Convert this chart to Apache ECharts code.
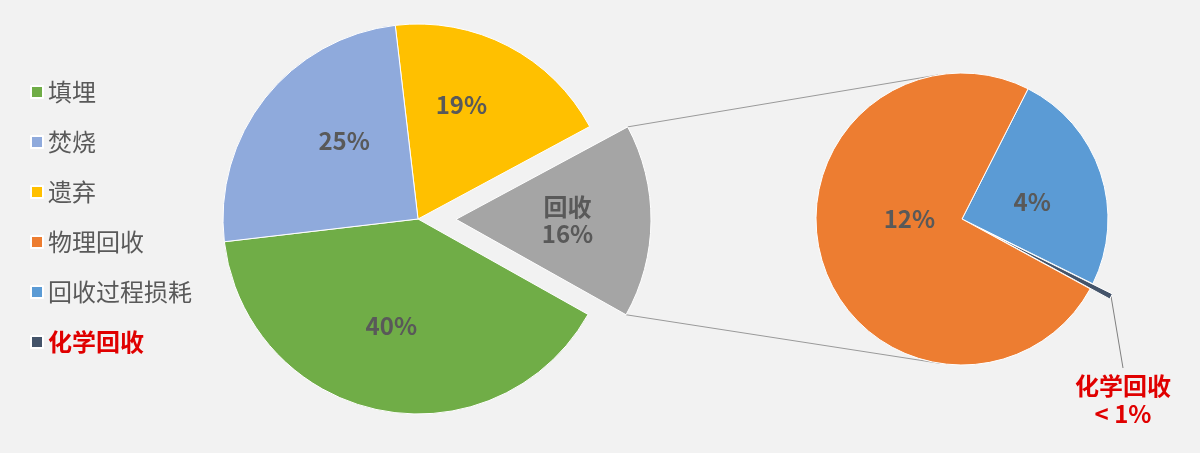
<!DOCTYPE html>
<html><head><meta charset="utf-8">
<script src="https://cdn.jsdelivr.net/npm/echarts@6/dist/echarts.min.js"></script>
<style>html,body{margin:0;padding:0;background:#f2f2f2}#c{width:1200px;height:453px}</style>
</head><body><div id="c"></div>
<script>
// ---- data ----
const legendNames = ['填埋', '焚烧', '遗弃', '物理回收', '回收过程损耗', '化学回收'];
const mainNames = ['遗弃', '回收', '填埋', '焚烧'];
const mainValues = [19, 16, 40, 25];
const subNames = ['回收过程损耗', '化学回收', '物理回收'];
const subValues = [4, 0.1, 12];
const subLabels = ['4%', '< 1%', '12%'];

// ---- styles / layout ----
const colors = {
  '填埋': '#70ad47', '焚烧': '#8faadc', '遗弃': '#ffc000', '回收': '#a5a5a5',
  '物理回收': '#ed7d31', '回收过程损耗': '#5b9bd5', '化学回收': '#44546a'
};
const FONT = '"Noto Sans CJK SC", "Noto Sans", sans-serif';
const MAIN_C = [418, 219], MAIN_R = 195, MAIN_START = 96.7, EXPLODE = 38;
const SUB_C = [962, 219], SUB_R = 146, SUB_START = 63.1, SUB_EXPLODE = 22;
const mainLabelShift = { '遗弃': [-3, -25], '焚烧': [5, -16], '填埋': [-7, 8], '回收': [11, 0] };
const subLabelShift = { '回收过程损耗': [-2, 7], '物理回收': [20, -23] };
const chemLabelPos = [1123, 400];

// ---- geometry (derived from data) ----
function sliceAngles(values, start, idx) {
  const tot = values.reduce((a, b) => a + b, 0);
  const bef = values.slice(0, idx).reduce((a, b) => a + b, 0);
  const s = (start - bef / tot * 360) * Math.PI / 180;
  const e = (start - (bef + values[idx]) / tot * 360) * Math.PI / 180;
  return [s, e, (s + e) / 2];
}
const [a0, a1, am] = sliceAngles(mainValues, MAIN_START, mainNames.indexOf('回收'));
const ec = [MAIN_C[0] + EXPLODE * Math.cos(am), MAIN_C[1] - EXPLODE * Math.sin(am)];
const pTop = [ec[0] + MAIN_R * Math.cos(a0), ec[1] - MAIN_R * Math.sin(a0)];
const pBot = [ec[0] + MAIN_R * Math.cos(a1), ec[1] - MAIN_R * Math.sin(a1)];
function tangent(p, c, r, sign) {
  const vx = p[0] - c[0], vy = p[1] - c[1];
  const d = Math.hypot(vx, vy);
  const th = Math.atan2(vy, vx);
  const al = th + sign * Math.acos(r / d);
  return [c[0] + r * Math.cos(al), c[1] + r * Math.sin(al)];
}
const tTop = tangent(pTop, SUB_C, SUB_R, 1);
const tBot = tangent(pBot, SUB_C, SUB_R, -1);
// selection offset of the chemical slice (label lives in the slice's moved frame)
const chemMid = sliceAngles(subValues, SUB_START, subNames.indexOf('化学回收'))[2];
const chemOff = [SUB_EXPLODE * Math.cos(chemMid), -SUB_EXPLODE * Math.sin(chemMid)];

const labelBase = { color: '#595959', fontWeight: 'bold', fontSize: 24, lineHeight: 27, fontFamily: FONT };

const mainData = mainNames.map((n, i) => ({
  name: n, value: mainValues[i], selected: n === '回收',
  itemStyle: { color: colors[n] }
}));
const subData = subNames.map((n, i) => {
  const item = { name: n, value: subValues[i], itemStyle: { color: colors[n] } };
  if (n === '化学回收') {
    item.selected = true;
    item.label = {
      show: true, position: 'outside', formatter: '{a|化学回收}\n{a|' + subLabels[i] + '}',
      rich: { a: { width: 104, align: 'center', color: '#e00000', fontWeight: 'bold', fontSize: 24, lineHeight: 28, fontFamily: FONT } }
    };
    item.labelLine = { show: true, length: 8, length2: 8, lineStyle: { color: '#808080', width: 1 } };
  }
  return item;
});

const chart = echarts.init(document.getElementById('c'), null, { renderer: 'canvas' });
chart.setOption({
  backgroundColor: '#f2f2f2',
  animation: false,
  legend: {
    data: legendNames,
    orient: 'vertical',
    left: 25, top: 75,
    icon: 'rect', itemWidth: 12, itemHeight: 12, itemGap: 26,
    textStyle: { color: '#595959', fontSize: 24, lineHeight: 24, fontFamily: FONT,
      rich: { r: { color: '#e00000', fontWeight: 'bold', fontSize: 24, lineHeight: 24, fontFamily: FONT } } },
    formatter: n => n === '化学回收' ? '{r|' + n + '}' : n,
    selectedMode: false
  },
  series: [
    {
      type: 'pie', center: MAIN_C, radius: [0, MAIN_R], startAngle: MAIN_START,
      clockwise: true, selectedMode: 'single', selectedOffset: EXPLODE,
      avoidLabelOverlap: false, emphasis: { disabled: true },
      itemStyle: { borderColor: '#ffffff', borderWidth: 1 },
      label: Object.assign({ show: true, position: 'inside',
        formatter: p => (p.name === '回收' ? '回收\n' : '') + p.value + '%' }, labelBase),
      labelLine: { show: false },
      labelLayout: p => { const s = mainLabelShift[mainNames[p.dataIndex]] || [0, 0]; return { dx: s[0], dy: s[1] }; },
      data: mainData
    },
    {
      type: 'pie', center: SUB_C, radius: [0, SUB_R], startAngle: SUB_START,
      clockwise: true, selectedMode: 'single', selectedOffset: SUB_EXPLODE,
      avoidLabelOverlap: false, emphasis: { disabled: true },
      itemStyle: { borderColor: '#ffffff', borderWidth: 1 },
      label: Object.assign({ show: true, position: 'inside',
        formatter: p => subLabels[p.dataIndex] }, labelBase),
      labelLine: { show: false },
      labelLayout: p => {
        const n = subNames[p.dataIndex];
        if (n === '化学回收') {
          const r = p.labelRect;
          const tx = chemLabelPos[0] - chemOff[0], ty = chemLabelPos[1] - chemOff[1];
          const out = { dx: tx - (r.x + r.width / 2), dy: ty - (r.y + r.height / 2) };
          if (p.labelLinePoints) out.labelLinePoints = [p.labelLinePoints[0], [tx, ty - r.height / 2 - 4]];
          return out;
        }
        const s = subLabelShift[n] || [0, 0]; return { dx: s[0], dy: s[1] };
      },
      data: subData
    }
  ],
  graphic: [
    { type: 'line', shape: { x1: pTop[0], y1: pTop[1], x2: tTop[0], y2: tTop[1] }, style: { stroke: '#9a9a9a', lineWidth: 1 }, z: 1 },
    { type: 'line', shape: { x1: pBot[0], y1: pBot[1], x2: tBot[0], y2: tBot[1] }, style: { stroke: '#9a9a9a', lineWidth: 1 }, z: 1 }
  ]
});
</script></body></html>
